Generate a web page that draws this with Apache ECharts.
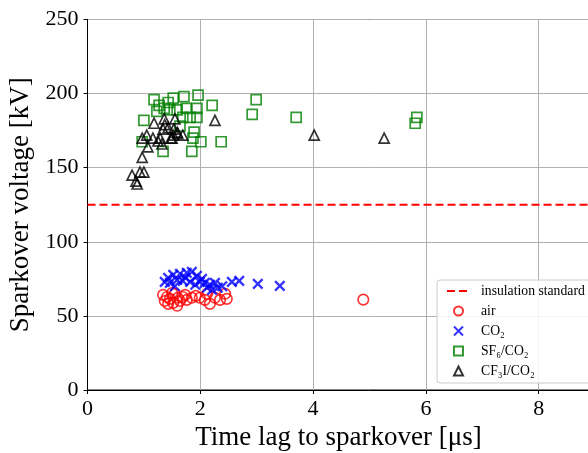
<!DOCTYPE html>
<html>
<head>
<meta charset="utf-8">
<script src="https://cdn.jsdelivr.net/npm/echarts@6/dist/echarts.min.js"></script>
<style>html,body{margin:0;padding:0;background:#fff;overflow:hidden;width:588px;height:453px}#c{width:652px;height:453px}</style>
</head>
<body>
<div id="c"></div>
<script>
// Tick values
const xTicks = [0, 2, 4, 6, 8, 10];
const yTicks = [0, 50, 100, 150, 200, 250];
// Insulation standard level [kV]
const insulationLevel = 125;
// Series names
const seriesNames = ['insulation standard', 'air', 'CO₂', 'SF₆/CO₂', 'CF₃I/CO₂'];
// [time lag µs, voltage kV]
const airData = [
  [1.34,64.2],[1.37,60.1],[1.41,62.8],[1.46,61.5],[1.52,58.8],[1.55,64.9],[1.59,56.8],
  [1.60,62.2],[1.64,60.1],[1.69,62.8],[1.73,64.2],[1.76,60.8],[1.85,62.2],[1.92,63.5],
  [1.99,62.2],[2.08,60.8],[2.12,64.9],[2.17,58.1],[2.26,62.2],[2.35,60.8],[2.44,64.9],
  [2.47,61.5],[1.50,65.5],[1.43,58.1],[4.89,61.0]
];
const co2Data = [
  [1.43,75.7],[1.52,77.7],[1.64,78.4],[1.76,79.0],[1.85,79.7],[1.94,77.0],[1.59,74.3],
  [1.69,73.6],[1.46,72.3],[1.82,73.0],[1.99,73.0],[2.08,72.3],[2.17,71.0],[2.26,72.3],
  [2.12,69.0],[2.21,67.6],[2.56,73.0],[2.69,73.6],[3.02,71.6],[3.41,70.3],[1.37,73.0],
  [1.55,70.0],[1.73,76.0],[1.91,71.0],[2.03,75.0],[2.31,69.0],[2.39,70.0]
];
const sf6Data = [
  [1.18,196],[1.27,192],[1.43,194],[1.52,197],[1.71,198],[1.96,199],[2.21,192],[2.99,196],
  [2.92,186],[3.70,184],[5.84,184],[5.81,180],[1.75,190],[1.94,190],[1.23,188],[1.46,189],
  [1.59,189],[1.00,182],[1.69,184],[1.82,184],[1.94,184],[1.64,178],[1.89,174],[1.87,170],
  [2.01,167.5],[2.37,167.5],[1.34,161],[1.85,161],[0.97,167.5],[1.36,190]
];
const cf3iData = [
  [1.18,180],[1.36,183],[1.55,183],[1.34,176],[1.43,177],[1.53,176],[1.05,172],[1.16,170],
  [0.97,170],[1.29,170],[1.48,170],[1.69,172],[1.07,164],[1.32,166],[0.97,157],[0.93,147],
  [1.00,147],[0.79,145],[0.86,141],[0.88,139],[2.26,182],[1.37,179],[1.59,174],[4.02,172],
  [5.26,170],[1.25,168],[1.52,172],[1.60,173],[1.50,170]
];

const font = 'Liberation Serif, Times New Roman, serif';
const chart = echarts.init(document.getElementById('c'), null, {renderer: 'canvas'});
const hollow = (c, w) => ({color: 'rgba(0,0,0,0)', borderColor: c, borderWidth: w});
const squarePath = 'path://M0,0L10,0L10,10L0,10Z';
const trianglePath = 'path://M5,0L10,10L0,10Z';
chart.setOption({
  animation: false,
  backgroundColor: '#fff',
  grid: {left: 87.5, top: 19.5, bottom: 63, right: 0.5, outerBoundsMode: 'none', containLabel: false,
         show: true, borderColor: '#000', borderWidth: 1, backgroundColor: 'transparent'},
  xAxis: {
    type: 'value', min: xTicks[0], max: xTicks[xTicks.length - 1], interval: xTicks[1] - xTicks[0],
    name: 'Time lag to sparkover [μs]', nameLocation: 'middle', nameGap: 32,
    nameTextStyle: {fontFamily: font, fontSize: 27, color: '#000', padding: [0, 62, 0, 0]},
    axisLine: {show: true, onZero: false, lineStyle: {color: '#000', width: 1}},
    axisTick: {show: true, inside: false, length: 4, lineStyle: {color: '#000'}},
    axisLabel: {fontFamily: font, fontSize: 22, color: '#000', margin: 8},
    splitLine: {show: true, lineStyle: {color: '#b0b0b0', width: 1}}
  },
  yAxis: {
    type: 'value', min: yTicks[0], max: yTicks[yTicks.length - 1], interval: yTicks[1] - yTicks[0],
    name: 'Sparkover voltage [kV]', nameLocation: 'middle', nameGap: 52,
    nameTextStyle: {fontFamily: font, fontSize: 27, color: '#000'},
    axisLine: {show: true, onZero: false, lineStyle: {color: '#000', width: 1}},
    axisTick: {show: true, inside: false, length: 4, lineStyle: {color: '#000'}},
    axisLabel: {fontFamily: font, fontSize: 22, color: '#000', margin: 9},
    splitLine: {show: true, lineStyle: {color: '#b0b0b0', width: 1}}
  },
  legend: {
    orient: 'vertical', left: 437, top: 280,
    padding: [4, 10, 5, 9], itemGap: 6, itemWidth: 23, itemHeight: 9,
    backgroundColor: 'rgba(255,255,255,0.85)', borderColor: '#cccccc', borderWidth: 1, borderRadius: 3,
    textStyle: {fontFamily: font, fontSize: 13.7, color: '#000', lineHeight: 14, padding: [0, 0, 0, 6]},
    itemStyle: {borderWidth: 2},
    symbolKeepAspect: true,
    data: [
      {name: seriesNames[0], itemStyle: {opacity: 0, borderWidth: 0}},
      seriesNames[1], seriesNames[2], seriesNames[3], seriesNames[4]
    ]
  },
  series: [
    {
      name: seriesNames[0], type: 'line', symbol: 'none', z: 1,
      data: [[xTicks[0], insulationLevel], [xTicks[xTicks.length - 1], insulationLevel]],
      lineStyle: {color: '#ff0000', width: 2, type: [8, 4]}, itemStyle: {color: '#ff0000'}
    },
    {
      name: seriesNames[1], type: 'scatter', symbol: 'circle', symbolSize: 10.5, data: airData, z: 2,
      itemStyle: hollow('#ff0000', 1.6)
    },
    {
      name: seriesNames[2], type: 'scatter', symbol: 'path://M0,0L10,10M0,10L10,0', symbolSize: 9.5, data: co2Data, z: 3,
      itemStyle: hollow('#0000ff', 2.3)
    },
    {
      name: seriesNames[3], type: 'scatter', symbol: squarePath, symbolSize: 10, data: sf6Data, z: 4,
      itemStyle: hollow('#008000', 1.7)
    },
    {
      name: seriesNames[4], type: 'scatter', symbol: trianglePath, symbolSize: 10, data: cf3iData, z: 5,
      itemStyle: hollow('#000000', 1.7)
    }
  ]
});
</script>
</body>
</html>
